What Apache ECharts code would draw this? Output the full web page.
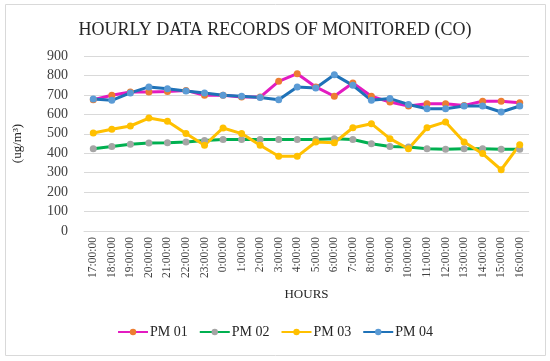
<!DOCTYPE html>
<html><head><meta charset="utf-8">
<script src="https://cdn.jsdelivr.net/npm/echarts@6/dist/echarts.min.js"></script>
<style>html,body{margin:0;padding:0;background:#fff}#c{width:550px;height:361px}</style>
</head><body><div id="c"></div>
<script>
const hours = ["17:00:00","18:00:00","19:00:00","20:00:00","21:00:00","22:00:00","23:00:00","0:00:00","1:00:00","2:00:00","3:00:00","4:00:00","5:00:00","6:00:00","7:00:00","8:00:00","9:00:00","10:00:00","11:00:00","12:00:00","13:00:00","14:00:00","15:00:00","16:00:00"];
const pm01 = [675,698,715,715,718,723,698,698,689,689,770,809,741,693,761,693,663,643,655,655,646,667,667,660];
const pm02 = [423,435,446,453,454,458,466,470,470,471,471,471,471,475,471,449,435,432,423,420,423,423,420,420];
const pm03 = [504,523,540,581,564,501,441,530,501,441,384,384,458,454,531,552,475,423,531,561,458,398,315,444];
const pm04 = [679,672,710,741,732,720,710,698,693,686,675,741,735,804,749,672,681,651,629,629,643,643,612,643];
const yTicks = {min:0, max:900, interval:100};
const F = "'Liberation Serif', serif";
function s(name, data, line, mark){
  return {name, type:'line', data, symbol:'circle', symbolSize:7,
    lineStyle:{color:line, width:3}, itemStyle:{color:mark},
    emphasis:{disabled:true}};
}
const chart = echarts.init(document.getElementById('c'), null, {renderer:'canvas'});
chart.setOption({
  animation:false,
  title:{text:'HOURLY DATA RECORDS OF MONITORED (CO)', left:'center', top:16,
    textStyle:{fontFamily:F, fontWeight:'normal', fontSize:18, color:'#262626'}},
  grid:{left:84, right:21, top:56, bottom:130},
  legend:{bottom:17, left:'center', itemWidth:30, itemHeight:8, itemGap:11,
    textStyle:{fontFamily:F, fontSize:14, color:'#262626', padding:[0,0,0,-3]},
    data:['PM 01','PM 02','PM 03','PM 04']},
  xAxis:{type:'category', data:hours, boundaryGap:true,
    name:'HOURS', nameLocation:'middle', nameGap:57,
    nameTextStyle:{fontFamily:F, fontSize:13, color:'#262626'},
    axisLine:{lineStyle:{color:'#d9d9d9'}}, axisTick:{show:false},
    axisLabel:{rotate:90, fontFamily:F, fontSize:11.5, color:'#404040', margin:6, interval:0}},
  yAxis:{type:'value', min:yTicks.min, max:yTicks.max, interval:yTicks.interval,
    name:'(ug/m³)', nameLocation:'middle', nameGap:60, nameRotate:90,
    nameTextStyle:{fontFamily:F, fontSize:13, color:'#262626'},
    axisLine:{show:false}, axisTick:{show:false},
    splitLine:{lineStyle:{color:'#d9d9d9'}},
    axisLabel:{fontFamily:F, fontSize:14, color:'#404040', margin:16}},
  graphic:[{type:'rect', shape:{x:5.5,y:4.5,width:540,height:351}, style:{fill:'none', stroke:'#d9d9d9', lineWidth:1}, silent:true}],
  series:[
    s('PM 01', pm01, '#E31BC1', '#ED7D31'),
    s('PM 02', pm02, '#00B050', '#A5A5A5'),
    s('PM 03', pm03, '#FFC000', '#FFC000'),
    s('PM 04', pm04, '#1F72B8', '#5B9BD5')
  ]
});
</script></body></html>
